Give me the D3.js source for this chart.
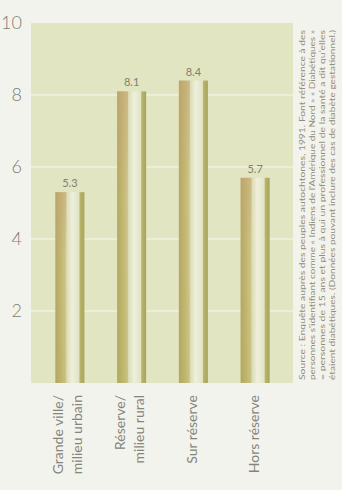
<!DOCTYPE html>
<html>
<head>
<meta charset="utf-8">
<script src="https://cdn.jsdelivr.net/npm/d3@7"></script>
<style>
  html, body { margin: 0; padding: 0; background: #f3f3ee; }
  svg { display: block; }
</style>
</head>
<body>
<svg id="chart" width="342" height="490"></svg>
<script>
// Diabetes prevalence (%) by place of residence
const categories = [
  ["Grande ville/", "milieu urbain"],
  ["Réserve/", "milieu rural"],
  ["Sur réserve"],
  ["Hors réserve"]
];
const values = [5.3, 8.1, 8.4, 5.7];
const yTicks = [2, 4, 6, 8, 10];
const sourceLines = [
  "Source : Enquête auprès des peuples autochtones, 1991. Font référence à des",
  "personnes s'identifiant comme « Indiens de l'Amérique du Nord » « Diabétiques »",
  "= personnes de 15 ans et plus à qui un professionnel de la santé a dit qu'elles",
  "étaient diabétiques. (Données pouvant inclure des cas de diabète gestationnel.)"
];

const svg = d3.select("#chart");
const panel = { left: 31, right: 293, top: 23, bottom: 383 };

const x = d3.scaleBand()
  .domain(d3.range(categories.length))
  .range([39, 286])
  .paddingInner(0.53)
  .paddingOuter(0.265);

const y = d3.scaleLinear().domain([0, 10]).range([panel.bottom, panel.top]);

// gradients for the bar strips
const defs = svg.append("defs");
const gLeft = defs.append("linearGradient").attr("id", "gLeft")
  .attr("x1", 0).attr("y1", 0).attr("x2", 1).attr("y2", 0);
gLeft.append("stop").attr("offset", "0%").attr("stop-color", "#b4a85e");
gLeft.append("stop").attr("offset", "55%").attr("stop-color", "#c3ba74");
gLeft.append("stop").attr("offset", "100%").attr("stop-color", "#d3cc8e");
const gLeftV = defs.append("linearGradient").attr("id", "gLeftV")
  .attr("x1", 0).attr("y1", 0).attr("x2", 0).attr("y2", 1);
gLeftV.append("stop").attr("offset", "0%").attr("stop-color", "#c7a27c").attr("stop-opacity", 0.45);
gLeftV.append("stop").attr("offset", "35%").attr("stop-color", "#c7a27c").attr("stop-opacity", 0.1);
gLeftV.append("stop").attr("offset", "100%").attr("stop-color", "#a9a85a").attr("stop-opacity", 0.2);
const gMid = defs.append("linearGradient").attr("id", "gMid")
  .attr("x1", 0).attr("y1", 0).attr("x2", 1).attr("y2", 0);
gMid.append("stop").attr("offset", "0%").attr("stop-color", "#dadbb2");
gMid.append("stop").attr("offset", "45%").attr("stop-color", "#eef0dc");
gMid.append("stop").attr("offset", "100%").attr("stop-color", "#e0e3c2");
const gRight = defs.append("linearGradient").attr("id", "gRight")
  .attr("x1", 0).attr("y1", 0).attr("x2", 1).attr("y2", 0);
gRight.append("stop").attr("offset", "0%").attr("stop-color", "#bab66e");
gRight.append("stop").attr("offset", "100%").attr("stop-color", "#a7a45c");

// plot panel
svg.append("rect")
  .attr("x", panel.left).attr("y", panel.top)
  .attr("width", panel.right - panel.left).attr("height", panel.bottom - panel.top)
  .attr("fill", "#e2e5c1");

// gridlines
svg.append("g").selectAll("line")
  .data(yTicks.filter(d => d < 10))
  .join("line")
  .attr("x1", panel.left).attr("x2", panel.right)
  .attr("y1", d => y(d)).attr("y2", d => y(d))
  .attr("stroke", "#eceed6").attr("stroke-width", 2);

// y tick labels
svg.append("g").selectAll("text")
  .data(yTicks)
  .join("text")
  .attr("x", 22)
  .attr("y", d => y(d))
  .attr("dy", "0.35em")
  .attr("text-anchor", "end")
  .attr("font-family", "Lato, 'DejaVu Sans', sans-serif")
  .attr("font-weight", 300)
  .attr("font-size", 18)
  .attr("fill", "#7d7d72")
  .text(d => d);

// bars: dark left strip, light centre, dark right strip
const bars = svg.append("g").selectAll("g")
  .data(values)
  .join("g");
const bw = x.bandwidth();
const parts = [
  { from: 0.00, to: 0.38, fill: "url(#gLeft)" },
  { from: 0.38, to: 0.83, fill: "url(#gMid)" },
  { from: 0.83, to: 1.00, fill: "url(#gRight)" }
];
parts.forEach(p => {
  bars.append("rect")
    .attr("x", (d, i) => x(i) + bw * p.from)
    .attr("y", d => y(d))
    .attr("width", bw * (p.to - p.from))
    .attr("height", d => y(0) - y(d))
    .attr("fill", p.fill);
});
bars.append("rect")
  .attr("x", (d, i) => x(i))
  .attr("y", d => y(d))
  .attr("width", bw * 0.38)
  .attr("height", d => y(0) - y(d))
  .attr("fill", "url(#gLeftV)");

// value labels
svg.append("g").selectAll("text")
  .data(values)
  .join("text")
  .attr("x", (d, i) => x(i) + bw / 2)
  .attr("y", d => y(d) - 5)
  .attr("text-anchor", "middle")
  .attr("font-family", "Lato, 'DejaVu Sans', sans-serif")
  .attr("font-size", 11)
  .attr("fill", "#808074")
  .text(d => d.toFixed(1));

// category labels, rotated
const catG = svg.append("g").selectAll("text")
  .data(categories)
  .join("text")
  .attr("transform", (d, i) => {
    const cx = x(i) + bw / 2;
    const base = d.length > 1 ? cx - 7 : cx + 4;
    return `translate(${base},395) rotate(-90)`;
  })
  .attr("text-anchor", "end")
  .attr("font-family", "Lato, 'DejaVu Sans', sans-serif")
  .attr("font-size", 14)
  .attr("fill", "#85857a");
catG.selectAll("tspan")
  .data(d => d)
  .join("tspan")
  .attr("x", 0)
  .attr("y", (d, j) => j * 19)
  .text(d => d);

// source note, rotated in the right margin
svg.append("g").selectAll("text")
  .data(sourceLines)
  .join("text")
  .attr("transform", (d, i) => `translate(${305 + i * 10},380) rotate(-90)`)
  .attr("text-anchor", "start")
  .attr("font-family", "Lato, 'DejaVu Sans', sans-serif")
  .attr("font-size", 7.5)
  .attr("fill", "#8f8d7c")
  .attr("textLength", 350)
  .attr("lengthAdjust", "spacingAndGlyphs")
  .text(d => d);
</script>
</body>
</html>
